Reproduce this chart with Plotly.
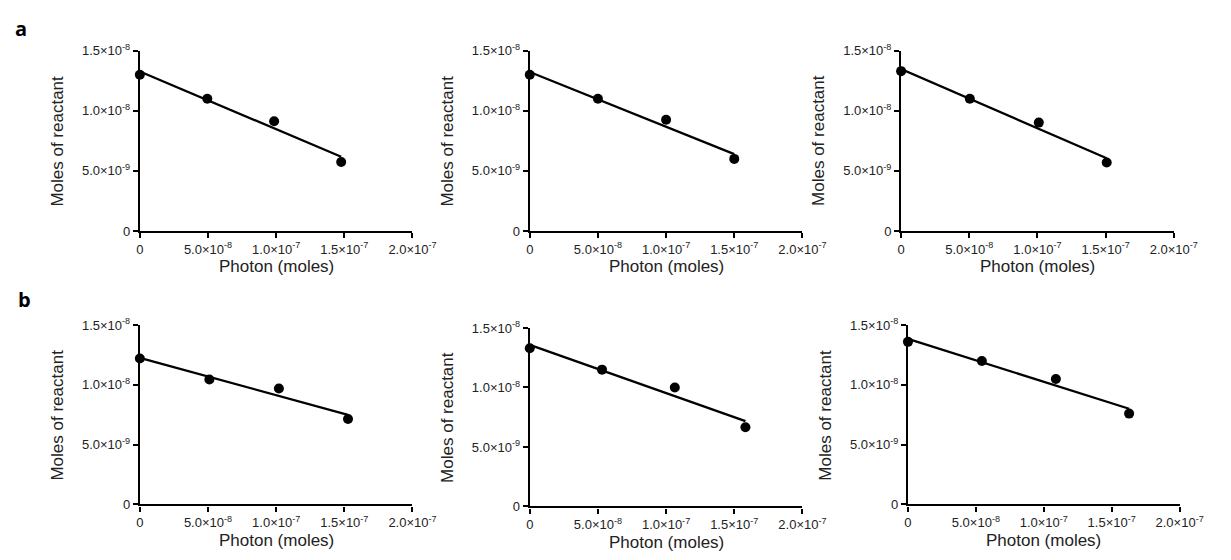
import numpy as np
import plotly.graph_objects as go

W, H = 1231, 560

# ---- data ----
a1_x = [0, 4.95e-8, 9.85e-8, 1.477e-7]
a1_y = [1.30e-8, 1.10e-8, 0.913e-8, 0.575e-8]
a2_x = [0, 5.0e-8, 1.0e-7, 1.50e-7]
a2_y = [1.30e-8, 1.10e-8, 0.925e-8, 0.60e-8]
a3_x = [0, 5.04e-8, 1.01e-7, 1.508e-7]
a3_y = [1.33e-8, 1.10e-8, 0.902e-8, 0.57e-8]
b1_x = [0, 5.1e-8, 1.02e-7, 1.527e-7]
b1_y = [1.22e-8, 1.045e-8, 0.97e-8, 0.715e-8]
b2_x = [0, 5.3e-8, 1.064e-7, 1.582e-7]
b2_y = [1.33e-8, 1.15e-8, 1.0e-8, 0.665e-8]
b3_x = [0, 5.44e-8, 1.089e-7, 1.628e-7]
b3_y = [1.36e-8, 1.20e-8, 1.05e-8, 0.76e-8]

x_tickvals = [0, 5e-8, 1e-7, 1.5e-7, 2e-7]
x_ticktext = ["0", "5.0×10<sup>-8</sup>", "1.0×10<sup>-7</sup>", "1.5×10<sup>-7</sup>", "2.0×10<sup>-7</sup>"]
y_tickvals = [0, 5e-9, 1e-8, 1.5e-8]
y_ticktext = ["0", "5.0×10<sup>-9</sup>", "1.0×10<sup>-8</sup>", "1.5×10<sup>-8</sup>"]
x_title = "Photon (moles)"
y_title = "Moles of reactant"
panel_labels = ["a", "b"]

panels = [(a1_x, a1_y), (a2_x, a2_y), (a3_x, a3_y), (b1_x, b1_y), (b2_x, b2_y), (b3_x, b3_y)]

# pixel boxes of plot areas: (left, right, top, bottom)
boxes = [
    (139, 418, 43, 229),
    (538, 817, 43, 229),
    (918, 1197, 43, 229),
    (139, 418, 326, 511),
    (538, 817, 329, 513),
    (925, 1203, 326, 511),
]

FONT = "Liberation Sans, Arial, sans-serif"
fig = go.Figure()
annotations = []
layout = {}

for i, ((xs, ys), (l, r, t, b)) in enumerate(zip(panels, boxes)):
    n = "" if i == 0 else str(i + 1)
    xa, ya = "x" + n, "y" + n
    # least-squares line through the points
    k, c = np.polyfit(xs, ys, 1)
    lx = np.array([0, max(xs)])
    fig.add_trace(go.Scatter(x=lx, y=k * lx + c, mode="lines",
                             line=dict(color="black", width=2.3),
                             xaxis=xa, yaxis=ya, showlegend=False, cliponaxis=False))
    fig.add_trace(go.Scatter(x=xs, y=ys, mode="markers",
                             marker=dict(color="black", size=10),
                             xaxis=xa, yaxis=ya, showlegend=False, cliponaxis=False))
    axis_common = dict(showgrid=False, zeroline=False, showline=True, linecolor="black",
                       linewidth=2.2, ticks="outside", ticklen=5, tickwidth=2, tickcolor="black",
                       tickfont=dict(family=FONT, size=13, color="#222"), fixedrange=True)
    layout["xaxis" + n] = dict(domain=[l / W, r / W], anchor=ya, range=[0, 2e-7],
                               tickmode="array", tickvals=x_tickvals, ticktext=x_ticktext,
                               **axis_common)
    layout["yaxis" + n] = dict(domain=[(H - b) / H, (H - t) / H], anchor=xa, range=[0, 1.5e-8],
                               tickmode="array", tickvals=y_tickvals, ticktext=y_ticktext,
                               ticklabelstandoff=0, **axis_common)
    annotations.append(dict(text=x_title, x=(l + r) / 2 / W, y=(H - (b + 37)) / H,
                            xref="paper", yref="paper", xanchor="center", yanchor="middle",
                            showarrow=False, font=dict(family=FONT, size=17, color="#222")))
    annotations.append(dict(text=y_title, x=(l - 84) / W, y=(H - (t + b) / 2) / H,
                            xref="paper", yref="paper", xanchor="center", yanchor="middle",
                            textangle=-90, showarrow=False,
                            font=dict(family=FONT, size=17, color="#222")))

for lab, (px, py) in zip(panel_labels, [(17, 20), (21, 300)]):
    annotations.append(dict(text="<b>" + lab + "</b>", x=px / W, y=(H - py) / H,
                            xref="paper", yref="paper", xanchor="center", yanchor="middle",
                            showarrow=False, font=dict(family="Open Sans, sans-serif", size=20, color="black")))

fig.update_layout(width=W, height=H, margin=dict(l=0, r=0, t=0, b=0),
                  paper_bgcolor="white", plot_bgcolor="white",
                  annotations=annotations, **layout)
fig.write_html("out.html")

# remove default page margin so the figure sits at (0,0) of the window
with open("out.html", "r", encoding="utf-8") as f:
    html = f.read()
html = html.replace("<head>", "<head><style>html,body{margin:0;padding:0;overflow:hidden;}</style>", 1)
with open("out.html", "w", encoding="utf-8") as f:
    f.write(html)
